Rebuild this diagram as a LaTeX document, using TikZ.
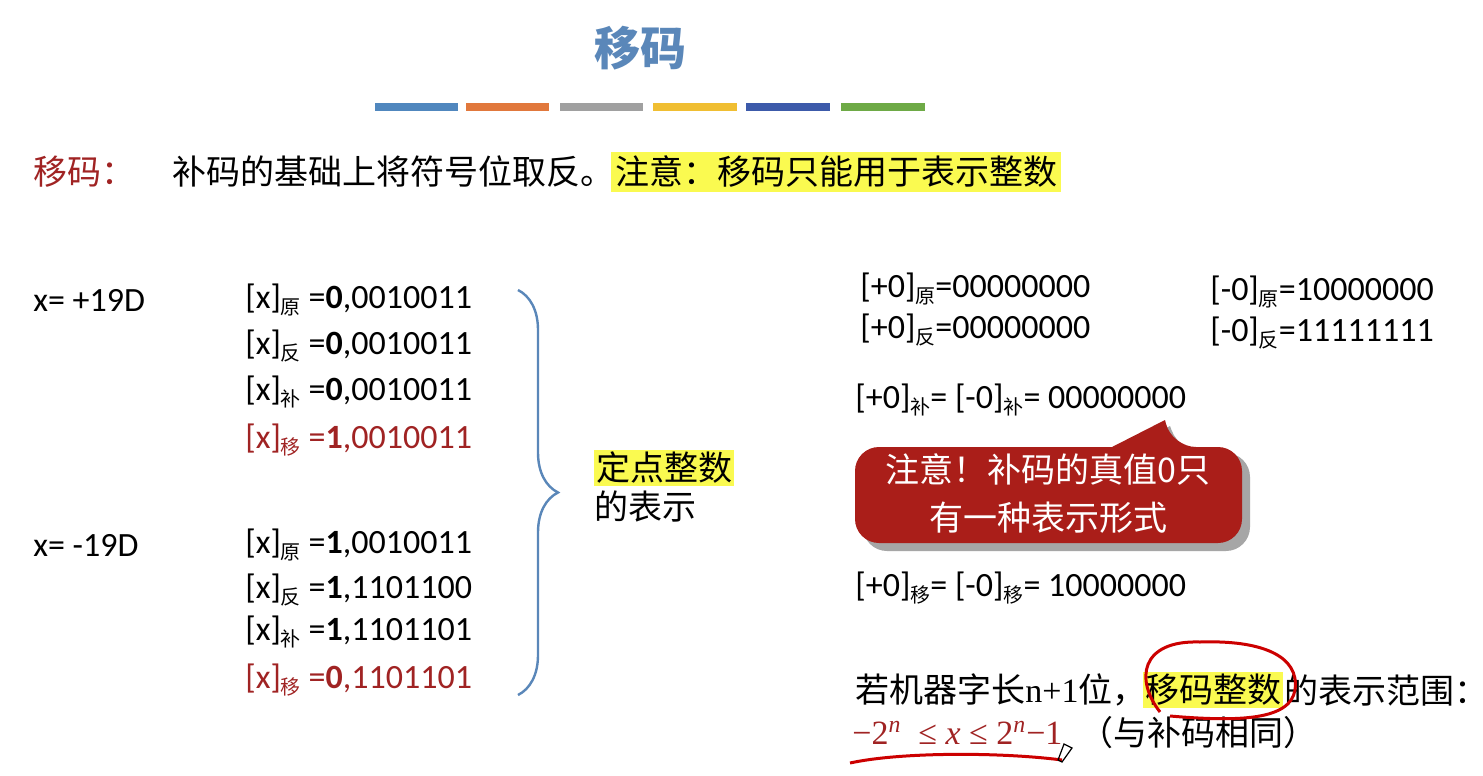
\documentclass[tikz,border=0pt]{standalone}
\usepackage{fontspec}
\setmainfont{Carlito}
\newfontfamily\cjk{Noto Sans CJK SC}
\newfontfamily\serifl{Liberation Serif}
\usetikzlibrary{decorations.pathreplacing}
\definecolor{titleblue}{RGB}{90,135,185}
\definecolor{dred}{RGB}{160,35,35}
\definecolor{hl}{RGB}{250,250,80}
\definecolor{callred}{RGB}{170,30,25}
\newcommand{\zs}[1]{\raisebox{-0.4ex}{\cjk\fontsize{10}{11}\selectfont #1}}
\tikzset{
  txt/.style={anchor=west,inner sep=0pt,font=\fontsize{17}{19}\selectfont},
  ctxt/.style={anchor=west,inner sep=0pt,font=\cjk\fontsize{17}{19}\selectfont},
  bar/.style={line width=4pt}
}
\begin{document}
\begin{tikzpicture}[x=0.5pt,y=-0.5pt]
\useasboundingbox (0,0) rectangle (1483,776);
\fill[white] (0,0) rectangle (1483,776);
\node (title) at (640,48) {\cjk\bfseries\fontsize{23}{26}\selectfont\color{titleblue}移码};
\draw[bar,color={rgb,255:red,80;green,135;blue,190}] (375,107)--(458,107);
\draw[bar,color={rgb,255:red,225;green,120;blue,60}] (466,107)--(549,107);
\draw[bar,color={rgb,255:red,160;green,160;blue,160}] (560,107)--(643,107);
\draw[bar,color={rgb,255:red,240;green,190;blue,50}] (653,107)--(737,107);
\draw[bar,color={rgb,255:red,60;green,90;blue,170}] (746,107)--(830,107);
\draw[bar,color={rgb,255:red,110;green,170;blue,70}] (841,107)--(925,107);

\node[ctxt,text=dred] (lbl) at (33,172) {移码：};
\node[ctxt] (def) at (172,172) {补码的基础上将符号位取反。};
\node[ctxt,fill=hl,inner sep=2pt,anchor=west] (note) at ([xshift=-2pt]def.east) {注意：移码只能用于表示整数};

\node[txt] (xp) at (33,300) {x= +19D};
\node[txt] (p1) at (245,300) {[x]\zs{原} =\textbf{0},0010011};
\node[txt] (p2) at (245,346) {[x]\zs{反} =\textbf{0},0010011};
\node[txt] (p3) at (245,392) {[x]\zs{补} =\textbf{0},0010011};
\node[txt,text=dred] (p4) at (245,440) {[x]\zs{移} =\textbf{1},0010011};
\node[txt] (xm) at (33,545) {x= -19D};
\node[txt] (m1) at (245,545) {[x]\zs{原} =\textbf{1},0010011};
\node[txt] (m2) at (245,590) {[x]\zs{反} =\textbf{1},1101100};
\node[txt] (m3) at (245,632) {[x]\zs{补} =\textbf{1},1101101};
\node[txt,text=dred] (m4) at (245,680) {[x]\zs{移} =\textbf{0},1101101};

\coordinate (bt) at (518,290);
\coordinate (bb) at (518,695);
\draw[titleblue,line width=1.2pt,decorate,decoration={brace,amplitude=20}] (bt)--(bb);
\node[ctxt,fill=hl,inner sep=1pt] (dd) at (594,468) {定点整数};
\node[ctxt] (dd2) at (594,506) {的表示};

\node[txt] (z1) at (860,289) {[+0]\zs{原}=00000000};
\node[txt] (z2) at (860,330) {[+0]\zs{反}=00000000};
\node[txt] (z3) at (1210,292) {[-0]\zs{原}=10000000};
\node[txt] (z4) at (1210,333) {[-0]\zs{反}=11111111};
\node[txt] (z5) at (855,400) {[+0]\zs{补}= [-0]\zs{补}= 00000000};

\fill[black!35] (863,453) [rounded corners=12pt] -- (863,551) -- (1250,551) -- (1250,453) -- (1180,453) [sharp corners] -- (1170,426) -- (1120,453) [rounded corners=12pt] -- cycle;
\fill[callred] (855,447) [rounded corners=12pt] -- (855,543) -- (1242,543) -- (1242,447) -- (1172,447) [sharp corners] -- (1165,420) -- (1112,447) [rounded corners=12pt] -- cycle;
\node[align=center,text=white,font=\cjk\fontsize{17}{24}\selectfont] (call) at (1048,494) {注意！补码的真值0只\\有一种表示形式};

\node[txt] (z6) at (855,588) {[+0]\zs{移}= [-0]\zs{移}= 10000000};

\node[ctxt] (r1) at (855,690) {若机器字长{\serifl n+1}位，};
\node[ctxt,fill=hl,inner sep=1pt,anchor=west] (r2) at ([xshift=-2pt]r1.east) {移码整数};
\node[ctxt,anchor=west] (r3) at (r2.east) {的表示范围：};
\node[anchor=west,inner sep=0pt,text=dred,font=\serifl\fontsize{17}{19}\selectfont] (r4) at (852,733) {−2\textsuperscript{\textit{n}}\enspace ≤ \textit{x} ≤ 2\textsuperscript{\textit{n}}−1};
\node[ctxt,anchor=west] (r5) at ([xshift=8pt]r4.east) {（与补码相同）};
\draw[red!80!black,line width=1.5pt] (1160,712) .. controls (1135,680) and (1140,640) .. (1200,642) .. controls (1260,640) and (1300,655) .. (1295,690) .. controls (1290,720) and (1240,722) .. (1170,716);
\draw[red!80!black,line width=1.5pt] (850,763) .. controls (900,752) and (1000,752) .. (1062,760);
\draw[black,line width=0.6pt] (1058,760) -- (1064,744) -- (1072,748) -- (1062,762) -- cycle;
\end{tikzpicture}
\end{document}
